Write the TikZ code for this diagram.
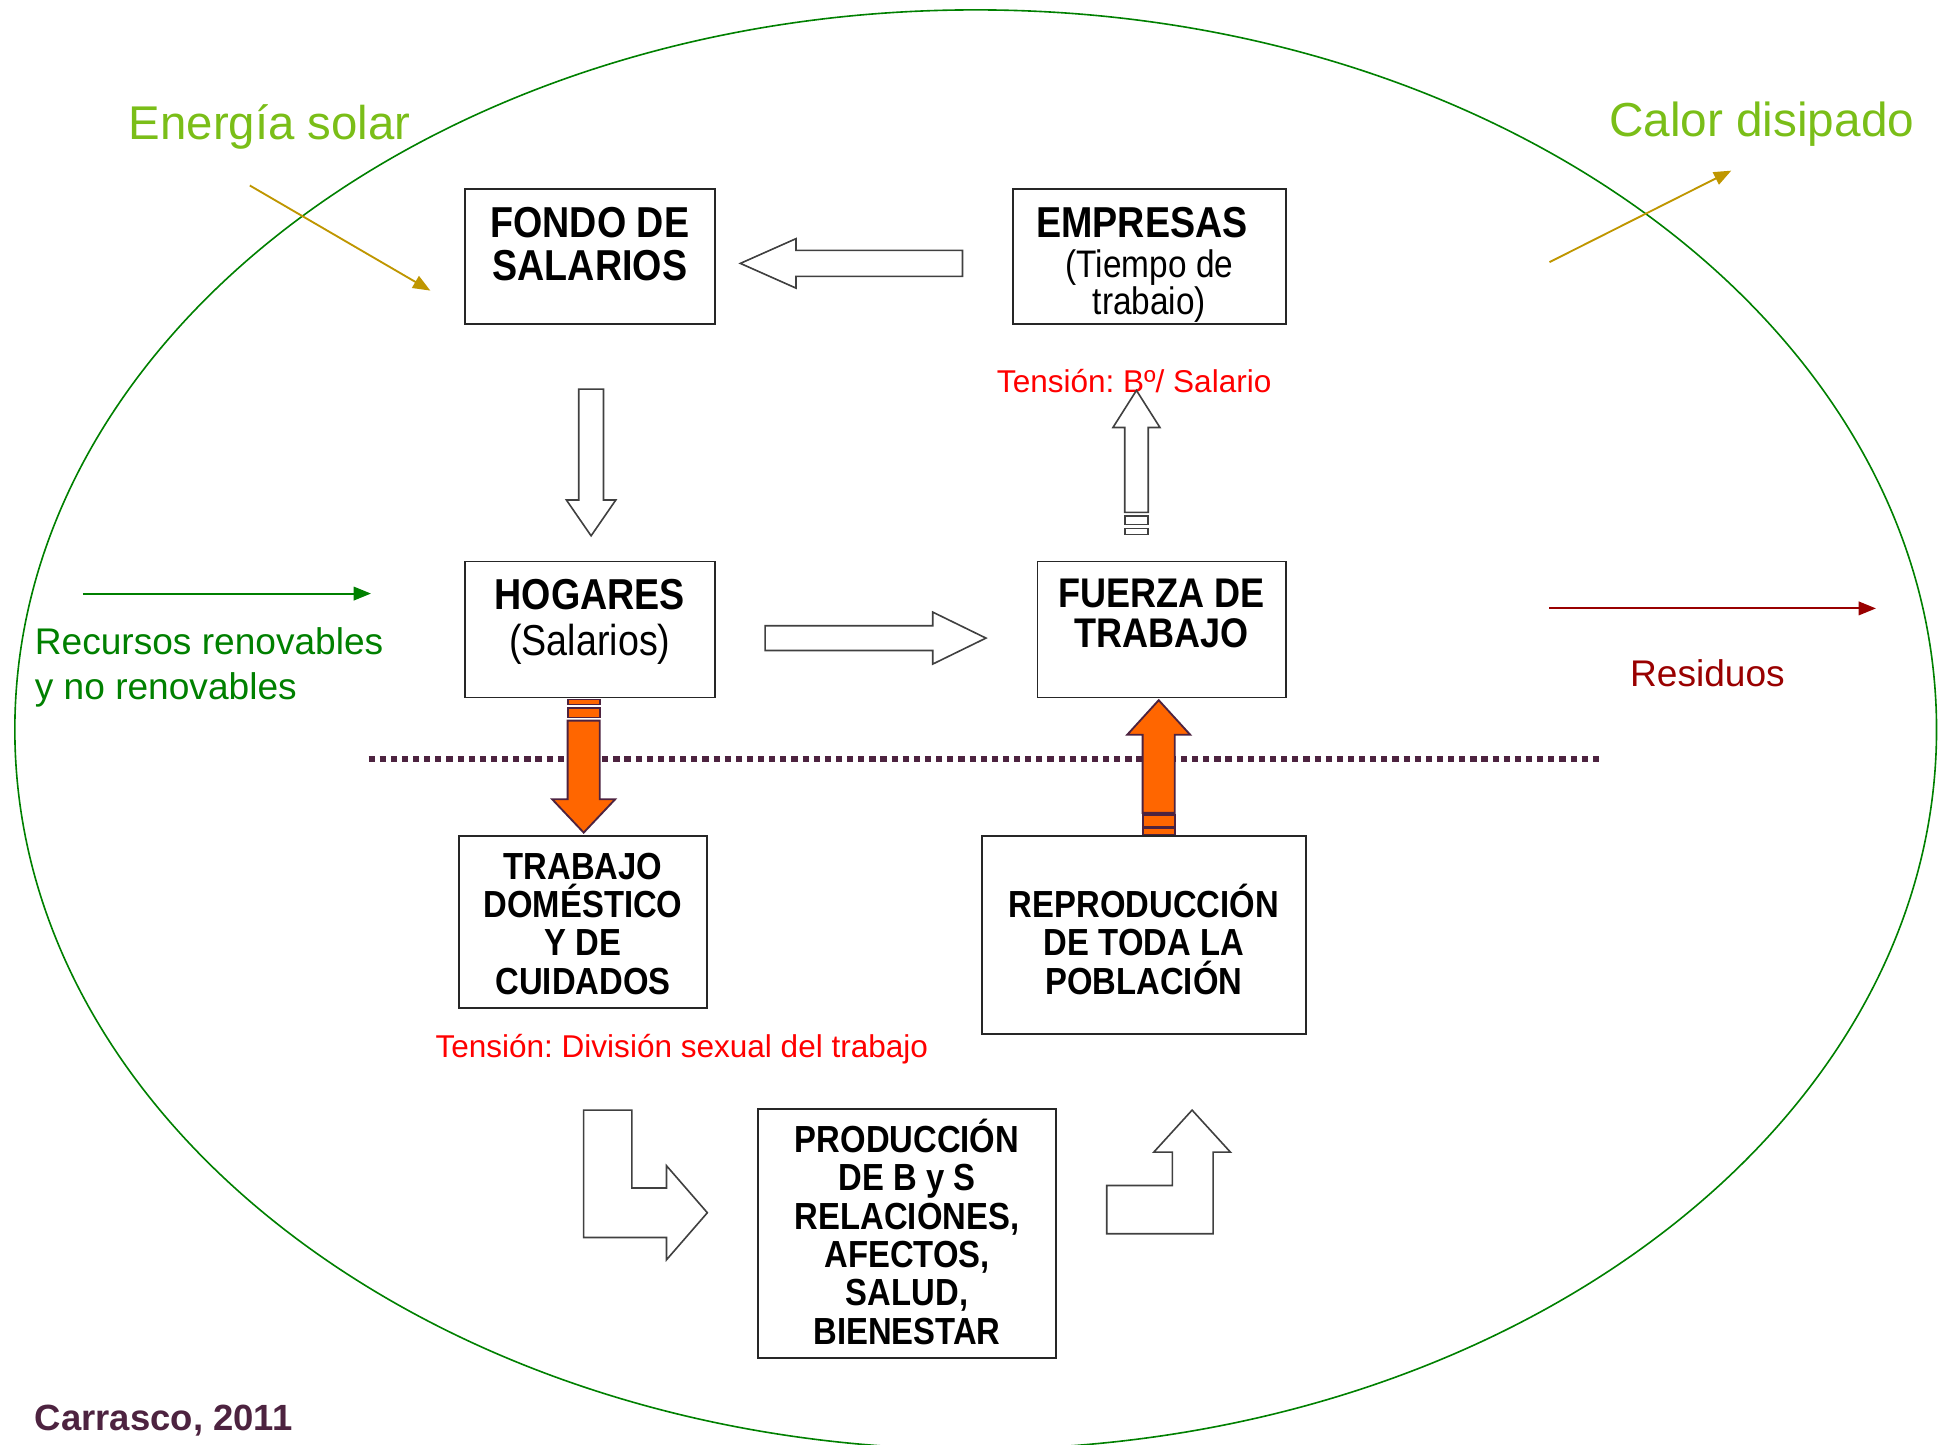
\documentclass[tikz,border=0pt]{standalone}
\usepackage{fontspec}
\setmainfont{Liberation Sans}
\newfontfamily\boxfont[FakeStretch=0.87]{Liberation Sans}
\usetikzlibrary{calc,arrows.meta}
\definecolor{lgreen}{RGB}{122,190,24}
\definecolor{dgreen}{RGB}{0,128,0}
\definecolor{gold}{RGB}{191,150,0}
\definecolor{dred}{RGB}{153,0,0}
\definecolor{tred}{RGB}{255,0,0}
\definecolor{plum}{RGB}{77,35,64}
\definecolor{orangeA}{RGB}{255,102,0}
\newcommand\myfs[2]{\fontsize{#1}{#2}\selectfont}
% block arrow: [style]{start}{end}{shaft half width}{head half width}{head length}
\newcommand\blkarrow[6][]{%
  \path ($(#3)!#6!(#2)$) coordinate (bH);
  \draw[#1] ($(#2)!#4!90:(#3)$) -- ($(bH)!#4!90:(#3)$) -- ($(bH)!#5!90:(#3)$) -- (#3)
    -- ($(bH)!#5!-90:(#3)$) -- ($(bH)!#4!-90:(#3)$) -- ($(#2)!#4!-90:(#3)$) -- cycle;}
\tikzset{
  box/.style={draw=black!85, line width=1.4pt, fill=white, inner sep=0pt},
  btxt/.style={font=\boxfont\bfseries\myfs{35}{35}, align=center, inner sep=0pt, anchor=base},
  stxt/.style={font=\boxfont\myfs{31}{29.5}, align=center, inner sep=0pt, anchor=base},
  ltxt/.style={font=\boxfont\bfseries\myfs{30.5}{31}, align=center, inner sep=0pt, anchor=base},
  lbl/.style={anchor=base west, inner sep=0pt},
  warrow/.style={draw=black!75, line width=1.3pt, fill=white, line join=miter},
  oarrow/.style={draw=plum, line width=1.5pt, fill=orangeA, line join=miter},
  thin/.style={line width=1.5pt, -{Triangle[length=14pt,width=11pt]}},
}
\begin{document}
\frenchspacing
\begin{tikzpicture}[x=1pt,y=-1pt]
\useasboundingbox (0,0) rectangle (1568,1168.5);
% enclosing ellipse
\draw[dgreen, line width=1.3pt] (789,590) ellipse [x radius=777, y radius=582];

% boxes
\node[box, minimum width=202pt, minimum height=109pt] (fondo) at (477,207.5) {};
\node[box, minimum width=221pt, minimum height=109pt] (emp) at (929.5,207.5) {};
\node[box, minimum width=202pt, minimum height=110pt] (hog) at (477,509) {};
\node[box, minimum width=201pt, minimum height=110pt] (fza) at (939.5,509) {};
\node[box, minimum width=201pt, minimum height=139pt] (trab) at (471.5,745.5) {};
\node[box, minimum width=262pt, minimum height=160pt] (repro) at (925,756) {};
\node[box, minimum width=241pt, minimum height=201pt] (prod) at (733.5,997.5) {};

% box texts (base anchor = baseline of the last line)
\node[btxt] (fondoT) at (477,227) {FONDO DE\\SALARIOS};
\node[btxt] (empT) at (923.5,192) {EMPRESAS};
\node[stxt] (empS) at (929.5,254) {(Tiempo de\\trabaio)};
\node[btxt] (hogT) at (477,493) {HOGARES};
\node[stxt, font=\boxfont\myfs{35}{35}] (hogS) at (477,530) {(Salarios)};
\node[btxt, font=\boxfont\bfseries\myfs{33.5}{33}] (fzaT) at (939.5,524) {FUERZA DE\\TRABAJO};
\node[ltxt] (trabT) at (471.5,804) {TRABAJO\\DOMÉSTICO\\Y DE\\CUIDADOS};
\node[ltxt] (reproT) at (925,804) {REPRODUCCIÓN\\DE TODA LA\\POBLACIÓN};
\node[ltxt] (prodT) at (733.5,1087) {PRODUCCIÓN\\DE B y S\\RELACIONES,\\AFECTOS,\\SALUD,\\BIENESTAR};

% outer labels
\node[lbl, text=lgreen, font=\myfs{38.3}{38}] (esol) at (104,113) {Energía solar};
\node[lbl, text=lgreen, font=\myfs{38.6}{38}] (calor) at (1301,110) {Calor disipado};
\node[lbl, text=dgreen, font=\myfs{30}{37}, align=left] (recur) at (28,566) {Recursos renovables\\y no renovables};
\node[lbl, text=dred, font=\myfs{30}{36}] (resid) at (1318,555) {Residuos};
\node[lbl, text=tred, font=\myfs{25.5}{30}] (t1) at (806,317) {Tensión: Bº/ Salario};
\node[lbl, text=tred, font=\myfs{25.5}{30}] (t2) at (352,855) {Tensión: División sexual del trabajo};
\node[lbl, text=plum, font=\bfseries\myfs{29.5}{30}] (carr) at (28,1157) {Carrasco, 2011};

% flows in/out of the system
\coordinate (es1) at (202,150); \coordinate (es2) at (348,235);
\draw[gold, thin] (es1) -- (es2);
\coordinate (cd1) at (1253,212); \coordinate (cd2) at (1400,138);
\draw[gold, thin] (cd1) -- (cd2);
\coordinate (rr1) at (67,480); \coordinate (rr2) at (300,480);
\draw[dgreen, thin] (rr1) -- (rr2);
\coordinate (rs1) at (1253,492); \coordinate (rs2) at (1517,492);
\draw[dred, thin] (rs1) -- (rs2);

% white block arrows
\coordinate (a1s) at ($(emp.west)+(-40,5.5)$);
\coordinate (a1e) at ($(fondo.east)+(20,5.5)$);
\blkarrow[warrow]{a1s}{a1e}{10.5pt}{20pt}{45pt}
\coordinate (a2s) at ($(fondo.south)+(1,52)$);
\coordinate (a2e) at ($(hog.north)+(1,-20)$);
\blkarrow[warrow]{a2s}{a2e}{10pt}{20pt}{29pt}
\coordinate (a3s) at ($(hog.east)+(40,7)$);
\coordinate (a3e) at ($(fza.west)+(-41,7)$);
\blkarrow[warrow]{a3s}{a3e}{10pt}{21pt}{43pt}
\coordinate (a4s) at ($(fza.north)+(-20.5,-39)$);
\coordinate (a4e) at ($(emp.south)+(-10.5,53)$);
\blkarrow[warrow]{a4s}{a4e}{9.5pt}{19pt}{30pt}
\draw[warrow] ($(a4s)+(-9.5,3)$) rectangle ($(a4s)+(9.5,10)$);
\draw[warrow] ($(a4s)+(-9.5,13)$) rectangle ($(a4s)+(9.5,18)$);

% dotted separator
\coordinate (d1) at (298,614); \coordinate (d2) at (1293,614);
\draw[plum, line width=5pt, dash pattern=on 5pt off 4pt] (d1) -- (d2);

% orange block arrows
\coordinate (o1s) at ($(hog.south)+(-5,18)$);
\coordinate (o1e) at ($(trab.north)+(0.5,-2)$);
\blkarrow[oarrow]{o1s}{o1e}{13pt}{25.5pt}{27pt}
\draw[oarrow] ($(o1s)+(-13,-17)$) rectangle ($(o1s)+(13,-13)$);
\draw[oarrow] ($(o1s)+(-13,-10.5)$) rectangle ($(o1s)+(13,-2.5)$);
\coordinate (o2s) at ($(repro.north)+(12,-18)$);
\coordinate (o2e) at ($(fza.south)+(-2.5,1.5)$);
\blkarrow[oarrow]{o2s}{o2e}{13pt}{25.5pt}{28pt}
\draw[oarrow] ($(o2s)+(-13,2)$) rectangle ($(o2s)+(13,11)$);
\draw[oarrow] ($(o2s)+(-13,12.5)$) rectangle ($(o2s)+(13,17.5)$);

% bent arrows around production box
\coordinate (lA) at ($(trab.south)+(0.5,82)$);
\draw[warrow] (lA) -- ++(39,0) -- ++(0,63) -- ++(28,0) -- ++(0,-18) -- ++(33,38)
  -- ++(-33,38) -- ++(0,-18) -- ++(-67,0) -- cycle;
\coordinate (lB) at ($(repro.south)+(-30,161)$);
\draw[warrow] (lB) -- ++(0,-39) -- ++(53,0) -- ++(0,-27) -- ++(-15,0) -- ++(31,-34)
  -- ++(31,34) -- ++(-14,0) -- ++(0,66) -- cycle;
\end{tikzpicture}
\end{document}
